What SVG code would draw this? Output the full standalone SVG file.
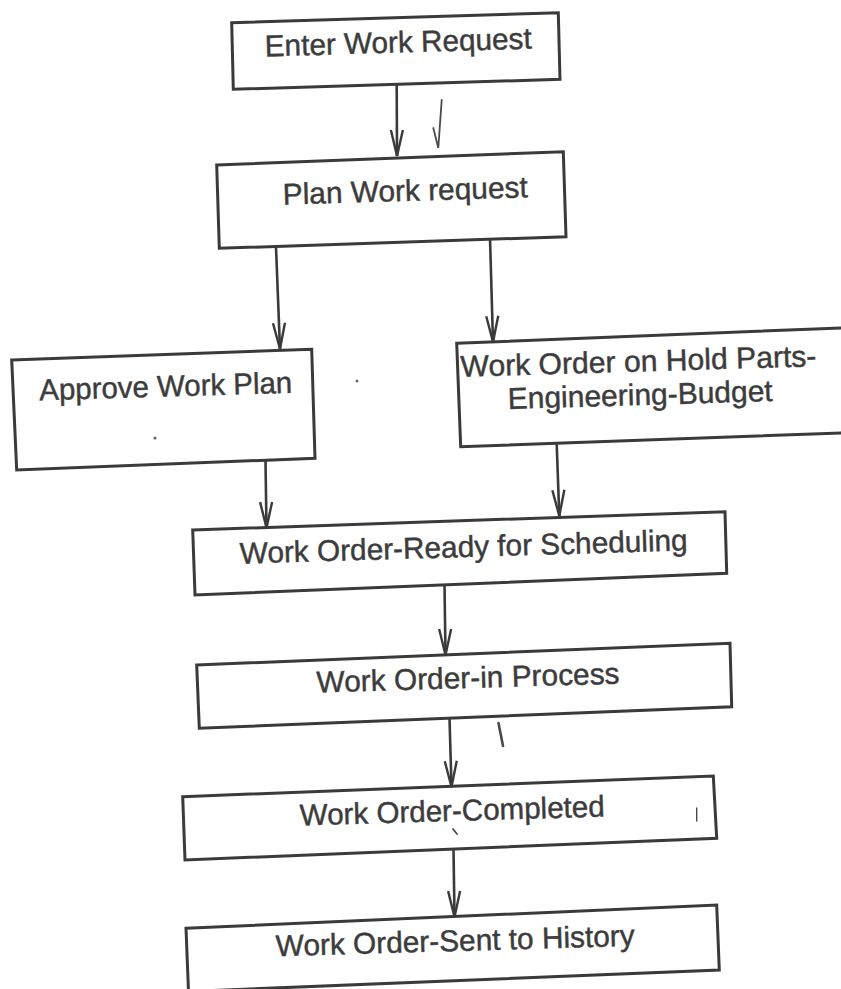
<svg xmlns="http://www.w3.org/2000/svg" width="841" height="989" viewBox="0 0 841 989">
  <style>
    .box { fill: none; stroke: #3a3a3a; stroke-width: 3; stroke-linejoin: miter; }
    .lbl { font-family: "Liberation Sans", Arial, Helvetica, sans-serif; font-size: 30px; fill: #3c3c3c; stroke: #3c3c3c; stroke-width: 0.45; text-anchor: middle; }
    .edge { fill: none; stroke: #3a3a3a; stroke-width: 2.6; marker-end: url(#vhead); }
    .mark { fill: none; stroke: #4a4a4a; stroke-linecap: round; }
  </style>
  <defs>
    <!-- open V arrowhead, tip at the end of the line -->
    <marker id="vhead" markerUnits="userSpaceOnUse" markerWidth="40" markerHeight="20" viewBox="-30 -10 40 20" refX="0" refY="0" orient="auto" overflow="visible">
      <path d="M-26,-6 L0,0 L-26,6" fill="none" stroke="#3a3a3a" stroke-width="2.4" stroke-linejoin="miter"/>
    </marker>
  </defs>

  <rect x="0" y="0" width="841" height="989" fill="#ffffff"/>

  <!-- connectors -->
  <g id="connectors">
    <line class="edge" x1="396.7" y1="85" x2="397" y2="156"/>
    <line class="edge" x1="276" y1="247" x2="280" y2="349"/>
    <line class="edge" x1="490" y1="238" x2="493" y2="342"/>
    <line class="edge" x1="265.5" y1="461" x2="266.5" y2="528"/>
    <line class="edge" x1="556.7" y1="444" x2="559.3" y2="516"/>
    <line class="edge" x1="444.5" y1="585" x2="445.5" y2="655"/>
    <line class="edge" x1="449.5" y1="718" x2="451.5" y2="787"/>
    <line class="edge" x1="453.5" y1="849" x2="454.5" y2="917"/>
  </g>

  <g id="enter-request">
    <polygon class="box" points="231.7,22.7 558.3,12.7 560,79.3 233.3,89.3"/>
    <text class="lbl" x="398.5" y="52.5" font-size="31" textLength="267" lengthAdjust="spacingAndGlyphs" transform="rotate(-1.7 398.5 52.5)">Enter Work Request</text>
  </g>

  <g id="plan-request">
    <polygon class="box" points="216.7,165 563.3,151.7 566,236.7 219.3,248.3"/>
    <text class="lbl" x="405.5" y="201" textLength="245" lengthAdjust="spacingAndGlyphs" transform="rotate(-1.7 405.5 201)">Plan Work request</text>
  </g>

  <g id="approve-plan">
    <polygon class="box" points="11.7,360 311.7,349.3 315,458.3 16.7,470"/>
    <text class="lbl" x="166" y="396.5" textLength="253" lengthAdjust="spacingAndGlyphs" transform="rotate(-1.7 166 396.5)">Approve Work Plan</text>
  </g>

  <g id="on-hold">
    <polygon class="box" points="456.7,343.3 870,326.8 870,431.9 460.7,446.7"/>
    <text class="lbl" x="638.7" y="371.5" textLength="356" lengthAdjust="spacingAndGlyphs" transform="rotate(-1.7 638.7 371.5)">Work Order on Hold Parts-</text>
    <text class="lbl" x="640.5" y="405" textLength="265" lengthAdjust="spacingAndGlyphs" transform="rotate(-1.7 640.5 405)">Engineering-Budget</text>
  </g>

  <g id="ready-scheduling">
    <polygon class="box" points="192.7,530 725,511.7 726.7,573.3 195,595"/>
    <text class="lbl" x="464" y="557" textLength="448" lengthAdjust="spacingAndGlyphs" transform="rotate(-1.7 464 557)">Work Order-Ready for Scheduling</text>
  </g>

  <g id="in-process">
    <polygon class="box" points="196.7,665 730,643.3 731.7,706.7 199.3,728.3"/>
    <text class="lbl" x="468.3" y="688" textLength="303" lengthAdjust="spacingAndGlyphs" transform="rotate(-1.7 468.3 688)">Work Order-in Process</text>
  </g>

  <g id="completed">
    <polygon class="box" points="182.7,796.7 713.3,776 716.7,838.3 185,860"/>
    <text class="lbl" x="452.5" y="821" textLength="305" lengthAdjust="spacingAndGlyphs" transform="rotate(-1.7 452.5 821)">Work Order-Completed</text>
  </g>

  <g id="sent-history">
    <polygon class="box" points="186,928.3 716.7,905 719.3,970 188.5,991.5"/>
    <text class="lbl" x="455.5" y="951" textLength="359" lengthAdjust="spacingAndGlyphs" transform="rotate(-1.7 455.5 951)">Work Order-Sent to History</text>
  </g>

  <!-- pen marks on the page -->
  <g id="pen-marks">
    <path class="mark" stroke-width="1.8" d="M441.7,100 L438.3,148 L433.3,128"/>
    <path class="mark" stroke-width="2.6" d="M498.5,723 L503,746"/>
    <path class="mark" stroke-width="1.4" stroke="#888" d="M696.7,808 L696.7,821"/>
    <path class="mark" stroke-width="1.8" d="M453,829 L457,834"/>
    <circle cx="155" cy="438" r="1.6" fill="#666"/>
    <circle cx="357" cy="381" r="1.5" fill="#666"/>
  </g>
</svg>
